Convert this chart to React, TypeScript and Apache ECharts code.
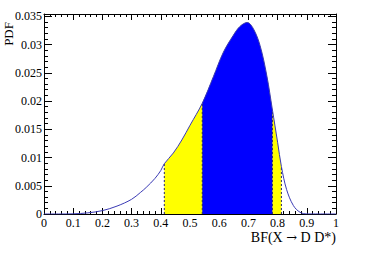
import React, { useEffect, useRef } from "react";
import * as echarts from "echarts";

// BF(X -> D D*) grid and PDF values
const bfValues = [0, 0.05, 0.1, 0.15, 0.2, 0.25, 0.3, 0.33, 0.35, 0.38, 0.4, 0.412, 0.443, 0.472, 0.5, 0.542, 0.58, 0.614, 0.648, 0.671, 0.696, 0.717, 0.74, 0.763, 0.782, 0.8, 0.813, 0.831, 0.854, 0.877, 0.9, 1.0];
const pdfValues = [0, 0, 0.00003, 0.0002, 0.0006, 0.0014, 0.0026, 0.0038, 0.0047, 0.0063, 0.0077, 0.0089, 0.0108, 0.0131, 0.0157, 0.0196, 0.0243, 0.0286, 0.0316, 0.0332, 0.0339, 0.0328, 0.0298, 0.0245, 0.0185, 0.0127, 0.0084, 0.0043, 0.0015, 0.0003, 0.00002, 0];

// interval bounds (outer = yellow, inner = blue)
const outerBand = [0.412, 0.813];
const innerBand = [0.542, 0.782];

const xTicks = [0, 0.1, 0.2, 0.3, 0.4, 0.5, 0.6, 0.7, 0.8, 0.9, 1];
const yTicks = [0, 0.005, 0.01, 0.015, 0.02, 0.025, 0.03, 0.035];
const yMax = 0.0354;

const FONT = "Liberation Serif";

export default function App() {
  const ref = useRef<HTMLDivElement>(null);
  useEffect(() => {
    if (!ref.current) return;
    const chart = echarts.init(ref.current, null, { renderer: "svg" });
    const curve = bfValues.map((x, i) => [x, pdfValues[i]]);
    const inRange = (b: number[]) => curve.filter((p) => p[0] >= b[0] - 1e-9 && p[0] <= b[1] + 1e-9);
    const valueAt = (x: number) => {
      const i = bfValues.indexOf(x);
      return i >= 0 ? pdfValues[i] : 0;
    };
    const edges = [outerBand[0], innerBand[0], innerBand[1], outerBand[1]];
    const fmtY = (v: number) => {
      const hit = yTicks.find((t) => Math.abs(t - v) < 1e-9);
      return hit === undefined ? "" : String(hit);
    };
    const fmtX = (v: number) => {
      const hit = xTicks.find((t) => Math.abs(t - v) < 1e-9);
      return hit === undefined ? "" : String(hit);
    };
    const baseX = {
      type: "value" as const,
      min: 0,
      max: 1,
      interval: 0.1,
      splitLine: { show: false },
      axisLine: { show: true, onZero: false, lineStyle: { color: "#000", width: 1 } },
      axisTick: { show: true, inside: true, length: 6, lineStyle: { color: "#000" } },
      minorTick: { show: true, splitNumber: 5, length: 3, lineStyle: { color: "#000" } },
    };
    const baseY = {
      type: "value" as const,
      min: 0,
      max: yMax,
      interval: 0.005,
      splitLine: { show: false },
      axisLine: { show: true, onZero: false, lineStyle: { color: "#000", width: 1 } },
      axisTick: { show: true, inside: true, length: 8, lineStyle: { color: "#000" } },
      minorTick: { show: true, splitNumber: 5, length: 4, lineStyle: { color: "#000" } },
    };
    const smooth = 0.35;
    chart.setOption({
      animation: false,
      grid: { left: 44, right: 38, top: 14, bottom: 41 },
      xAxis: [
        {
          ...baseX,
          position: "bottom",
          axisLabel: { show: true, margin: 3, color: "#000", fontFamily: FONT, fontSize: 12, formatter: fmtX },
        },
        { ...baseX, position: "top", axisLabel: { show: false } },
      ],
      yAxis: [
        {
          ...baseY,
          position: "left",
          axisLabel: { show: true, margin: 2, color: "#000", fontFamily: FONT, fontSize: 12, formatter: fmtY, showMaxLabel: false },
        },
        { ...baseY, position: "right", axisLabel: { show: false } },
      ],
      series: [
        {
          type: "line",
          data: inRange(outerBand),
          smooth,
          symbol: "none",
          lineStyle: { width: 0, opacity: 0 },
          areaStyle: { color: "#ffff00", opacity: 1 },
          z: 1,
        },
        {
          type: "line",
          data: inRange(innerBand),
          smooth,
          symbol: "none",
          lineStyle: { width: 0, opacity: 0 },
          areaStyle: { color: "#0000ff", opacity: 1 },
          z: 2,
        },
        ...edges.map((e) => ({
          type: "line",
          data: [
            [e, 0],
            [e, valueAt(e)],
          ],
          symbol: "none",
          lineStyle: { color: "#24246e", width: 1, type: [2, 2] },
          z: 3,
        })),
        {
          type: "line",
          data: curve,
          smooth,
          symbol: "none",
          lineStyle: { color: "#3a3ab4", width: 1 },
          z: 4,
        },
      ],
      graphic: [
        {
          type: "text",
          x: 2,
          y: 22,
          rotation: Math.PI / 2,
          style: { text: "PDF", fontFamily: FONT, fontSize: 13, fill: "#000", align: "right", verticalAlign: "top" },
        },
        {
          type: "text",
          right: 38,
          top: 230,
          style: {
            text: "{t|BF(X }{a|\u2192}{t| D D*)}",
            fill: "#000",
            rich: {
              t: { fontFamily: FONT, fontSize: 14, fill: "#000" },
              a: { fontFamily: "DejaVu Serif", fontSize: 13, fill: "#000" },
            },
          },
        },
      ],
    });
    return () => chart.dispose();
  }, []);
  return <div ref={ref} style={{ position: "fixed", left: 0, top: 0, width: 374, height: 255, background: "#fff" }} />;
}
